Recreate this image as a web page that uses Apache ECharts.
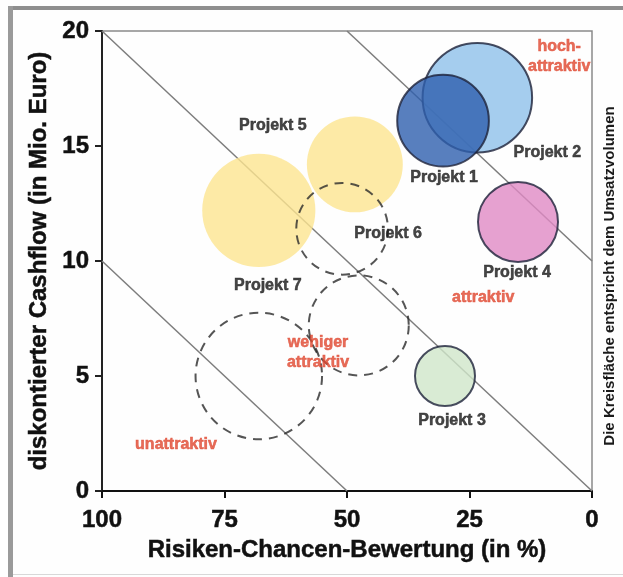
<!DOCTYPE html>
<html><head><meta charset="utf-8">
<script src="https://cdn.jsdelivr.net/npm/echarts@6/dist/echarts.min.js"></script>
<style>html,body{margin:0;padding:0;background:#fff}#c{width:623px;height:577px}</style>
</head><body><div id="c"></div>
<script>
// ---- data ----
const projects = ['Projekt 1', 'Projekt 2', 'Projekt 3', 'Projekt 4', 'Projekt 5', 'Projekt 7'];
const riskScore = [30.4, 23.4, 30.0, 15.1, 48.4, 68.0];      // Risiken-Chancen-Bewertung (%)
const cashflow = [16.1, 17.1, 5.0, 11.7, 14.2, 12.2];        // Mio. Euro
const salesVolume = [21, 30, 9, 16, 23, 32];                 // Umsatzvolumen (relative)

const plannedNames = ['Projekt 6', 'Projekt 5 (geplant)', 'Projekt 7 (geplant)'];
const plannedRisk = [51.0, 47.6, 68.0];
const plannedCashflow = [11.4, 7.2, 5.0];
const plannedVolume = [21, 25, 40];

const boundaryLines = [
  [[100, 10], [50, 0]],
  [[100, 20], [0, 0]],
  [[50, 20], [0, 10]]
];

const zoneLabels = ['hoch-\nattraktiv', 'attraktiv', 'wehiger\nattraktiv', 'unattraktiv'];
const zoneRisk = [6.7, 22.2, 55.9, 84.9];
const zoneCashflow = [18.9, 8.4, 6.0, 2.0];

const xTickValues = [0, 25, 50, 75, 100];
const yTickValues = [0, 5, 10, 15, 20];
const sideNote = 'Die Kreisfläche entspricht dem Umsatzvolumen';

// ---- styles ----
const FONT = "'Liberation Sans', Arial, sans-serif";
const INK = '#111';
const fillColors = {
  'Projekt 1': '#2e5fae', 'Projekt 2': '#8fc0ea', 'Projekt 3': '#cfe6c9',
  'Projekt 4': '#e08ac4', 'Projekt 5': '#fde590', 'Projekt 7': '#fde590'
};
const bordered = { 'Projekt 1': true, 'Projekt 2': true, 'Projekt 3': true, 'Projekt 4': true };
const labelOffsets = {
  'Projekt 1': [1, 57], 'Projekt 2': [70, 55], 'Projekt 3': [7, 45],
  'Projekt 4': [-1, 51], 'Projekt 5': [-82, -39], 'Projekt 7': [9, 75],
  'Projekt 6': [46, 5]
};
const sizeOf = v => 20 * Math.sqrt(v[2]);
const boldText = (size, color) => ({
  fontSize: size, fontWeight: 'bold', color: color, fontFamily: FONT,
  textBorderColor: color, textBorderWidth: 0.5
});

const solidData = projects.map((n, i) => ({
  name: n,
  value: [riskScore[i], cashflow[i], salesVolume[i]],
  itemStyle: {
    color: fillColors[n],
    borderColor: bordered[n] ? '#1b2138' : 'transparent',
    borderWidth: bordered[n] ? 2 : 0
  },
  label: { offset: labelOffsets[n] }
})).sort((a, b) => b.value[2] - a.value[2]);

const plannedData = plannedNames.map((n, i) => ({
  name: n,
  value: [plannedRisk[i], plannedCashflow[i], plannedVolume[i]],
  label: { show: !!labelOffsets[n], offset: labelOffsets[n] || [0, 0] }
}));

const lineSeries = boundaryLines.map(seg => ({
  type: 'line', data: seg, symbol: 'none', silent: true, z: 1,
  lineStyle: { color: '#7d7d7d', width: 1.5 }
}));

const chart = echarts.init(document.getElementById('c'), null, { renderer: 'canvas' });
chart.setOption({
  backgroundColor: '#fefefe',
  animation: false,
  textStyle: { fontFamily: FONT },
  graphic: [
    { type: 'rect', shape: { x: 8, y: 6, width: 615, height: 4 }, style: { fill: '#8e8e8e' } },
    { type: 'rect', shape: { x: 8, y: 6, width: 5, height: 571 }, style: { fill: '#9a9a9a' } },
    { type: 'rect', shape: { x: 13, y: 574, width: 610, height: 1 }, style: { fill: '#d8d8d8' } },
    { type: 'text', x: 610, y: 276, rotation: Math.PI / 2,
      style: { text: sideNote, fontSize: 15, fontWeight: 'bold', fill: '#1a1a1a',
               fontFamily: FONT, align: 'center', verticalAlign: 'middle' } }
  ],
  grid: { left: 102, right: 31, top: 31, bottom: 86, show: true,
          borderColor: '#8a8a8a', borderWidth: 1.5, backgroundColor: 'transparent' },
  xAxis: {
    type: 'value', min: 0, max: 100, interval: 25, inverse: true, position: 'bottom',
    name: 'Risiken-Chancen-Bewertung (in %)', nameLocation: 'middle', nameGap: 47,
    nameTextStyle: boldText(24, INK),
    axisLine: { onZero: false, lineStyle: { color: INK, width: 2 } },
    axisTick: { length: 7, lineStyle: { width: 2, color: INK } },
    axisLabel: Object.assign({ margin: 17,
                 formatter: v => xTickValues.includes(v) ? String(v) : '' }, boldText(24, INK)),
    splitLine: { show: false }
  },
  yAxis: {
    type: 'value', min: 0, max: 20, interval: 5, position: 'left',
    name: 'diskontierter Cashflow (in Mio. Euro)', nameLocation: 'middle', nameGap: 50,
    nameTextStyle: boldText(24, INK),
    axisLine: { onZero: false, lineStyle: { color: '#222', width: 2 } },
    axisTick: { length: 7, lineStyle: { width: 2, color: '#222' } },
    axisLabel: Object.assign({ margin: 13,
                 formatter: v => yTickValues.includes(v) ? String(v) : '' }, boldText(24, INK)),
    splitLine: { show: false }
  },
  series: [
    ...lineSeries,
    {
      type: 'scatter', name: 'Projekte', z: 2, data: solidData, symbolSize: sizeOf,
      label: Object.assign({ show: true, position: 'inside', formatter: '{b}' }, boldText(16, '#161616')),
      emphasis: { disabled: true }
    },
    {
      type: 'scatter', name: 'geplant', z: 3, data: plannedData, symbolSize: sizeOf,
      itemStyle: { color: 'transparent', borderColor: '#2a2a2a', borderWidth: 2, borderType: [9, 7] },
      label: Object.assign({ position: 'inside', formatter: '{b}' }, boldText(16, '#161616')),
      emphasis: { disabled: true }
    },
    {
      type: 'scatter', name: 'Zonen', z: 4, symbolSize: 0,
      data: zoneLabels.map((t, i) => ({ name: t, value: [zoneRisk[i], zoneCashflow[i]] })),
      label: Object.assign({ show: true, position: 'inside', formatter: '{b}', lineHeight: 20 },
                           boldText(16, '#e0472f')),
      emphasis: { disabled: true }
    }
  ]
});
</script></body></html>
